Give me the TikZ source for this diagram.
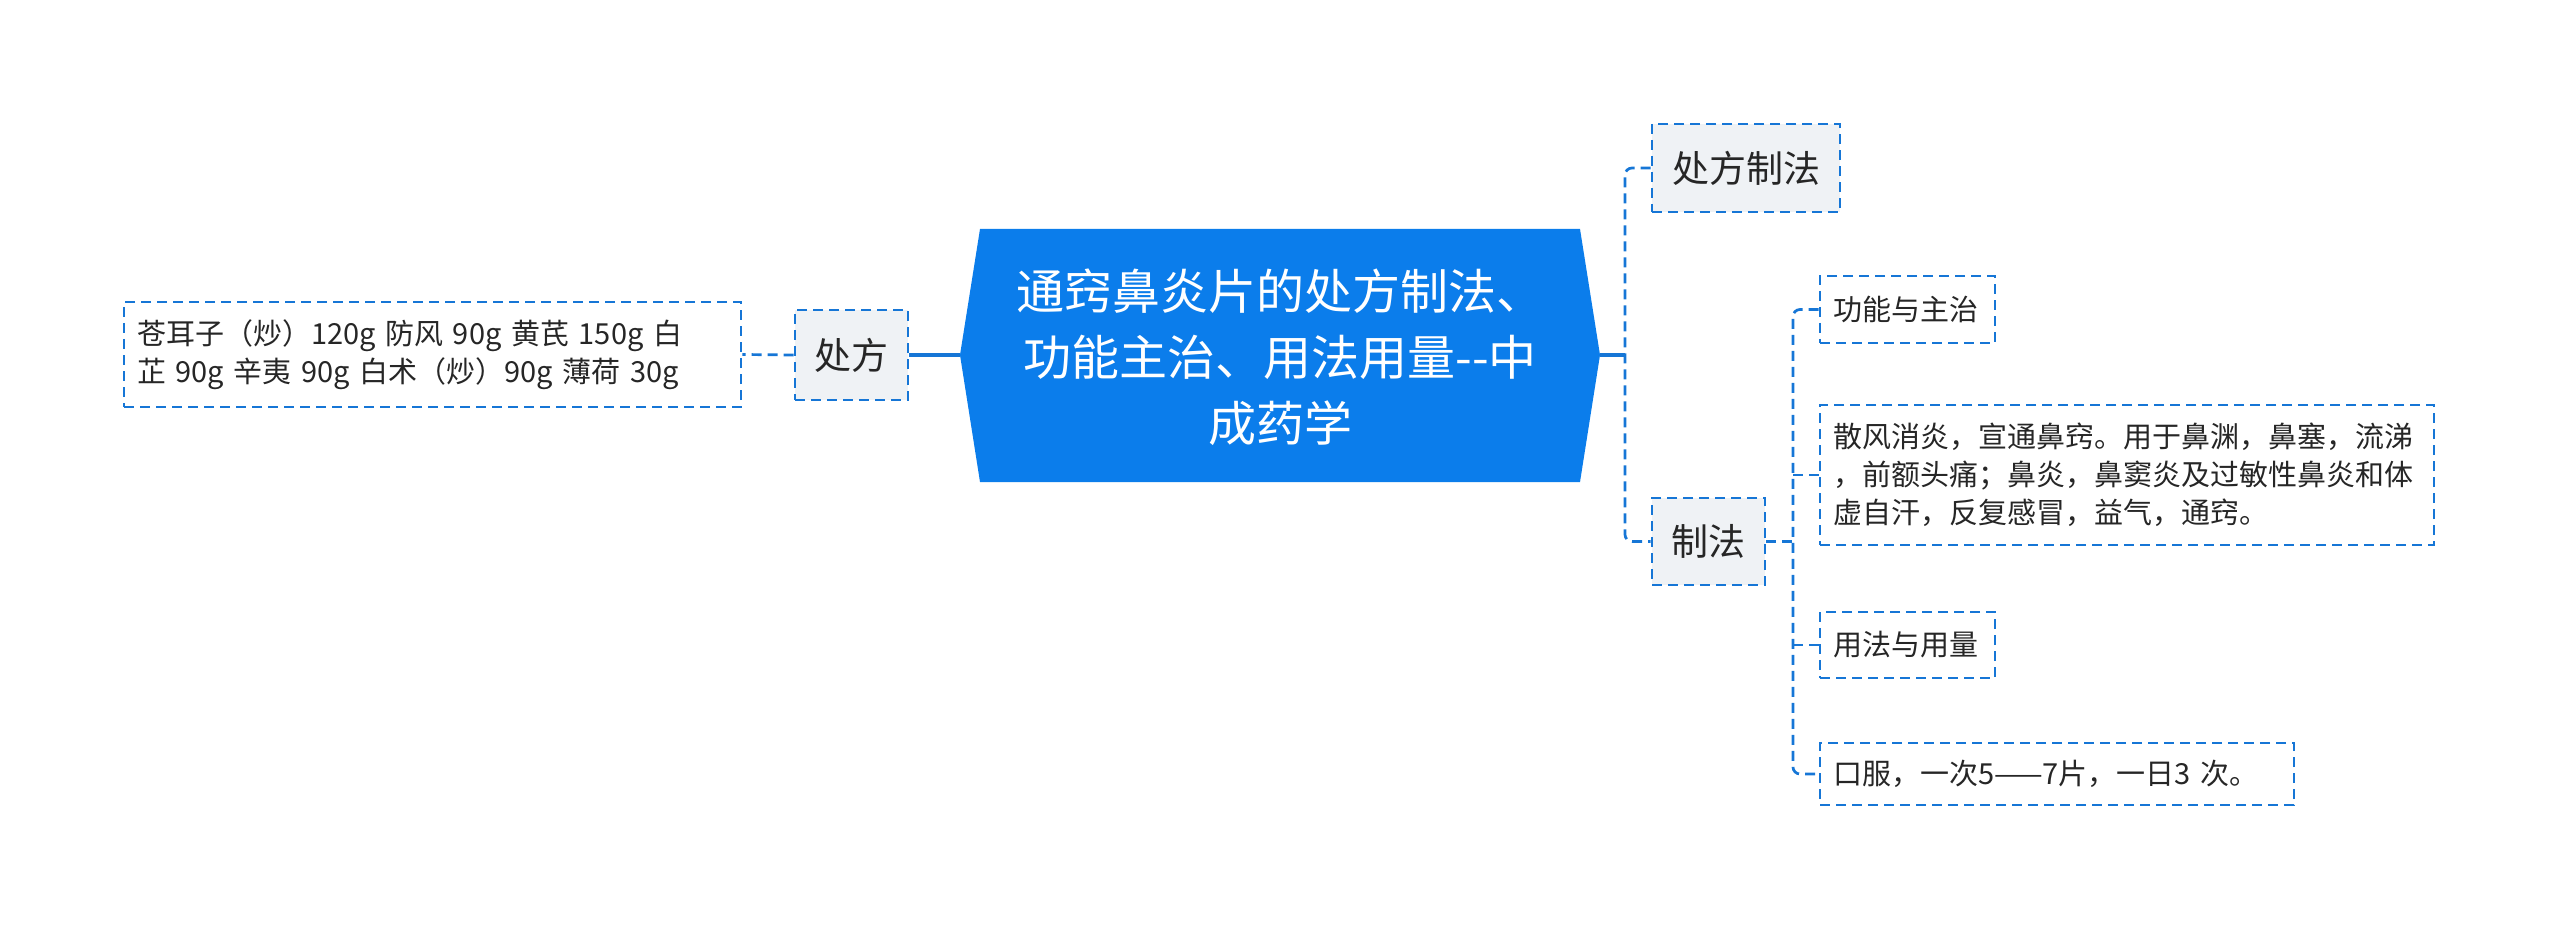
\documentclass[tikz,border=0pt]{standalone}
\usepackage{fontspec}
\setmainfont{Noto Sans CJK SC}
\definecolor{mainblue}{RGB}{11,125,235}
\definecolor{lineblue}{RGB}{22,118,214}
\definecolor{boxgray}{RGB}{239,242,245}
\definecolor{txt}{RGB}{38,38,38}
\tikzset{
  dashbox/.style={draw=lineblue, line width=2.7pt, dash pattern=on 10pt off 6pt, text=txt, inner ysep=0pt},
  graybox/.style={dashbox, fill=boxgray, font=\fontsize{37}{44}\selectfont, inner xsep=0pt, align=center},
  leafbox/.style={dashbox, font=\fontsize{29}{38}\selectfont, inner xsep=13pt, align=left},
  solidconn/.style={draw=lineblue, line width=3.5pt},
  dashconn/.style={draw=lineblue, line width=2.7pt, dash pattern=on 10pt off 6pt, rounded corners=7pt},
}
\begin{document}
\begin{tikzpicture}[x=1pt,y=-1pt]
\useasboundingbox (0,0) rectangle (2560,933);
% root shape
\coordinate (rootL) at (960,355);
\coordinate (rootR) at (1600,355);
\fill[mainblue] (980,229) -- (1580,229) -- (rootR) -- (1580,482) -- (980,482) -- (rootL) -- cycle;
\node[text=white, align=center, font=\fontsize{48}{66}\selectfont] (root) at (1280,357)
  {通窍鼻炎片的处方制法、\\功能主治、用法用量-{}-中\\成药学};
% left
\node[graybox, minimum width=113pt, minimum height=90pt] (chufang) at (851.5,355) {处方};
\node[leafbox, text width=591pt, minimum height=105pt] (recipe) at (432.5,354.5)
  {苍耳子（炒）120g 防风 90g 黄芪 150g 白\\芷 90g 辛夷 90g 白术（炒）90g 薄荷 30g};
% right level 1
\node[graybox, minimum width=188pt, minimum height=88pt] (cfzf) at (1746,168) {处方制法};
\node[graybox, minimum width=113pt, minimum height=87pt] (zhifa) at (1708.5,541.5) {制法};
% right level 2
\node[leafbox, text width=149pt, minimum height=67pt] (gn) at (1907.5,309.5) {功能与主治};
\node[leafbox, text width=588pt, minimum height=140pt] (gntext) at (2127,475)
  {散风消炎，宣通鼻窍。用于鼻渊，鼻塞，流涕\\，前额头痛；鼻炎，鼻窦炎及过敏性鼻炎和体\\虚自汗，反复感冒，益气，通窍。};
\node[leafbox, text width=149pt, minimum height=66pt] (yf) at (1907.5,645) {用法与用量};
\node[leafbox, text width=448pt, minimum height=62pt] (yftext) at (2057,774) {口服，一次5——7片，一日3 次。};
% connectors
\draw[solidconn] (rootL) -- (chufang.east);
\draw[dashconn] (chufang.west) -- (recipe.east);
\coordinate (j1) at (1625,355);
\draw[solidconn] (rootR) -- (j1);
\draw[dashconn] (cfzf.west) -- (j1 |- cfzf.west) -- (j1 |- zhifa.west) -- (zhifa.west);
\coordinate (j2) at (1793,541.5);
\draw[dashconn] (zhifa.east) -- (j2);
\draw[dashconn] (gn.west) -- (j2 |- gn.west) -- (j2 |- yftext.west) -- (yftext.west);
\draw[dashconn] (gntext.west) -- (j2 |- gntext.west);
\draw[dashconn] (yf.west) -- (j2 |- yf.west);
\end{tikzpicture}
\end{document}
